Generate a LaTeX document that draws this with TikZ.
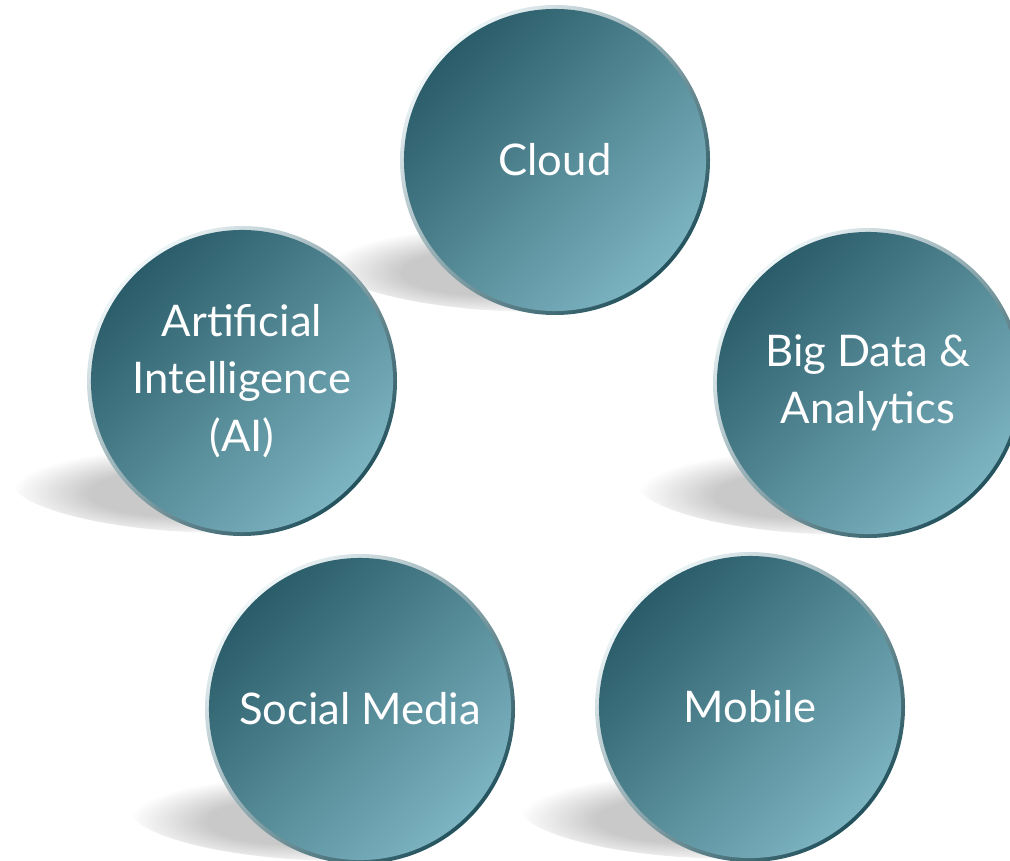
\documentclass[tikz,border=0pt]{standalone}
\usepackage{fontspec}
\setmainfont{Lato}
\usepackage{tikz}
\usetikzlibrary{shapes}
\usetikzlibrary{positioning}
\definecolor{tealdark}{HTML}{2A5C69}
\definecolor{teallight}{HTML}{7DB4C1}
\definecolor{rimdark}{HTML}{23525D}
\definecolor{rimlight}{HTML}{EEF6F8}
\definecolor{shadowgray}{HTML}{C9C9C9}
\pgfdeclareradialshading{shadowfade}{\pgfpoint{0bp}{0bp}}{color(0bp)=(shadowgray); color(13bp)=(shadowgray); color(25bp)=(white); color(50bp)=(white)}
\tikzset{
    bubble/.style = {circle, inner sep=0pt, minimum size=7.55cm, align=center, text=white,
                     shading=axis, top color=tealdark, bottom color=teallight, shading angle=45,
                     font=\fontsize{31}{41}\selectfont},
    rim/.style = {shading=axis, top color=rimlight, bottom color=rimdark, shading angle=45},
    dropshadow/.style = {shading=shadowfade}
}

\begin{document}
\begin{tikzpicture}[x=0.025cm, y=-0.025cm]
\clip (0,0) rectangle (1010,860);
%
\foreach \x/\y in {555/160, 868/383, 242/381, 360/709, 750/707} {
    \shade[dropshadow, shift={(\x-68,\y+112)}, rotate=-4] (0,0) ellipse [x radius=162, y radius=38];
}
\foreach \x/\y in {555/160, 868/383, 242/381, 360/709, 750/707} {
    \shade[rim] (\x,\y) circle [radius=155];
}
%
\node[bubble] at (555,160) (cloud) {Cloud};
\node[bubble] at (868,383) (bigdata) {Big Data \&\\Analytics};
\node[bubble] at (242,381) (ai) {Artificial\\Intelligence\\(AI)};
\node[bubble] at (360,709) (social) {Social Media};
\node[bubble] at (750,707) (mobile) {Mobile};

\end{tikzpicture}
\end{document}
